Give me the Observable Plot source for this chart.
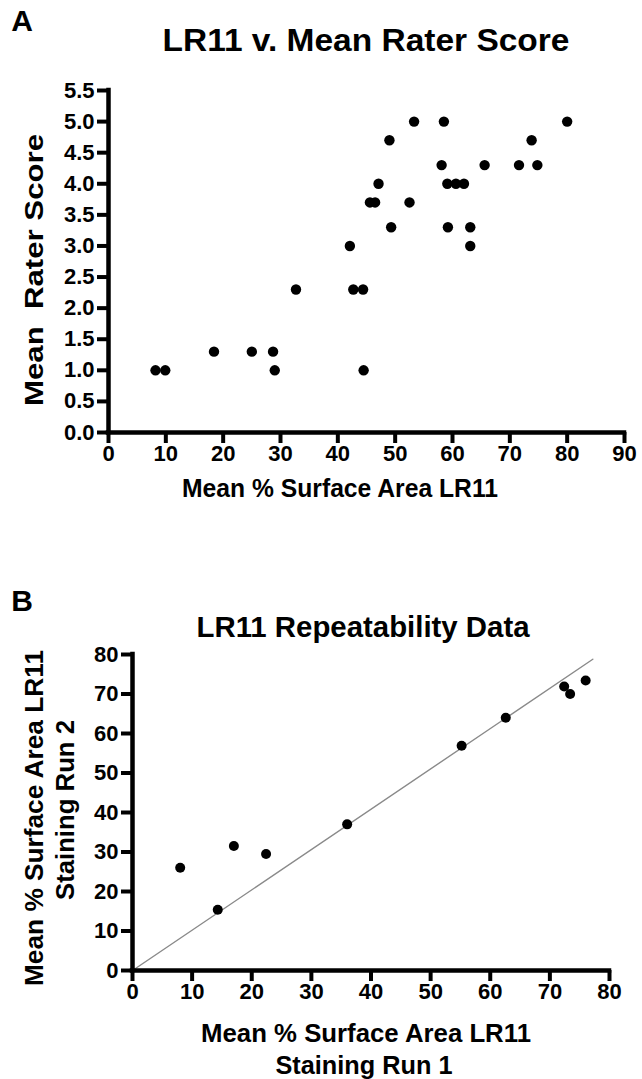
<!DOCTYPE html>
<html>
<head>
<meta charset="utf-8">
<script src="https://cdn.jsdelivr.net/npm/d3@7"></script>
<script src="https://cdn.jsdelivr.net/npm/@observablehq/plot@0.6"></script>
<style>
  html, body { margin: 0; padding: 0; background: #fff; }
  #wrap { position: relative; width: 642px; height: 1079px; overflow: hidden; }
  #overlay { position: absolute; left: 0; top: 0; pointer-events: none; }
  #overlay text { font-family: "Liberation Sans", Arial, sans-serif; font-weight: bold; fill: #000; }
</style>
</head>
<body>
<div id="wrap"><div id="pa"></div><div style="height:80px"></div><div id="pb"></div></div>
<script>
// Panel A: LR11 v. Mean Rater Score
const aSurfaceArea = [8.2, 9.9, 18.4, 25.0, 28.7, 29.0, 32.7, 42.1, 42.7, 44.4, 44.5, 45.6, 46.5, 47.1, 49.0, 49.3, 52.5, 53.3, 58.1, 58.5, 59.1, 59.2, 60.6, 62.0, 63.1, 63.1, 65.6, 71.6, 73.8, 74.8, 80.0];
const aRaterScore  = [1.0, 1.0, 1.3, 1.3, 1.3, 1.0, 2.3, 3.0, 2.3, 2.3, 1.0, 3.7, 3.7, 4.0, 4.7, 3.3, 3.7, 5.0, 4.3, 5.0, 4.0, 3.3, 4.0, 4.0, 3.3, 3.0, 4.3, 4.3, 4.7, 4.3, 5.0];
const aXTicks = [0, 10, 20, 30, 40, 50, 60, 70, 80, 90];
const aYTicks = [0, 0.5, 1, 1.5, 2, 2.5, 3, 3.5, 4, 4.5, 5, 5.5];

// Panel B: LR11 Repeatability Data
const bRun1 = [8.0, 14.3, 17.0, 22.4, 36.0, 55.2, 62.6, 72.4, 73.4, 76.0];
const bRun2 = [26.0, 15.4, 31.5, 29.5, 37.0, 56.9, 64.0, 71.9, 70.0, 73.4];
const bLineX = [0, 77.2];
const bLineY = [0, 78.8];
const bTicks = [0, 10, 20, 30, 40, 50, 60, 70, 80];

const FONT = "Liberation Sans, Arial, sans-serif";
const TICK = 11;

function axesMarks(xTicks, yTicks, xMax, yMax, yFormat) {
  return [
    Plot.ruleX([0], {y1: 0, y2: yMax, stroke: "black", strokeWidth: 4.5, strokeLinecap: "square"}),
    Plot.ruleY([0], {x1: 0, x2: xMax, stroke: "black", strokeWidth: 4.5, strokeLinecap: "square"}),
    Plot.axisX({ticks: xTicks, tickSize: TICK, tickPadding: 2, stroke: "black", strokeWidth: 4, fill: "black", fontSize: 22, fontWeight: "bold", fontFamily: FONT, label: null}),
    Plot.axisY({ticks: yTicks, tickSize: TICK, tickPadding: 3, stroke: "black", strokeWidth: 4, fill: "black", fontSize: 22, fontWeight: "bold", fontFamily: FONT, tickFormat: yFormat, label: null})
  ];
}

const aData = aSurfaceArea.map((x, i) => ({x, y: aRaterScore[i]}));
const plotA = Plot.plot({
  width: 642, height: 480,
  marginLeft: 108, marginRight: 18, marginTop: 90, marginBottom: 48,
  style: {fontFamily: FONT, background: "white"},
  x: {domain: [0, 90]},
  y: {domain: [0, 5.5]},
  marks: [
    ...axesMarks(aXTicks, aYTicks, 90, 5.5, d3.format(".1f")),
    Plot.dot(aData, {x: "x", y: "y", r: 5.2, fill: "black", stroke: null})
  ]
});
document.getElementById("pa").appendChild(plotA);

const bData = bRun1.map((x, i) => ({x, y: bRun2[i]}));
const bLine = bLineX.map((x, i) => ({x, y: bLineY[i]}));
const plotB = Plot.plot({
  width: 642, height: 460,
  marginLeft: 132, marginRight: 33, marginTop: 94, marginBottom: 50,
  style: {fontFamily: FONT, background: "white"},
  x: {domain: [0, 80]},
  y: {domain: [0, 80]},
  marks: [
    Plot.line(bLine, {x: "x", y: "y", stroke: "#8a8a8a", strokeWidth: 1.4}),
    ...axesMarks(bTicks, bTicks, 80, 80, d3.format("d")),
    Plot.dot(bData, {x: "x", y: "y", r: 5, fill: "black", stroke: null})
  ]
});
document.getElementById("pb").appendChild(plotB);

// Text overlay (titles, panel letters, axis labels)
const texts = [
  {t: "A", x: 22, y: 20, size: 30},
  {t: "LR11 v. Mean Rater Score", x: 366, y: 40, size: 31, len: 407},
  {t: "Mean\u00a0\u00a0Rater Score", x: 34, y: 270, size: 26, len: 272, rot: true},
  {t: "Mean % Surface Area LR11", x: 340, y: 488, size: 25, len: 316},
  {t: "B", x: 22, y: 600, size: 30},
  {t: "LR11 Repeatability Data", x: 363, y: 626, size: 30, len: 333},
  {t: "Mean % Surface Area LR11", x: 34, y: 818, size: 26, len: 336, rot: true},
  {t: "Staining Run 2", x: 65, y: 810, size: 26, len: 180, rot: true},
  {t: "Mean % Surface Area LR11", x: 366, y: 1033, size: 26, len: 330},
  {t: "Staining Run 1", x: 364, y: 1065, size: 26, len: 177}
];
const svg = d3.select("#wrap").append("svg").attr("id", "overlay").attr("width", 642).attr("height", 1079);
for (const d of texts) {
  const g = svg.append("g").attr("transform", `translate(${d.x},${d.y})${d.rot ? " rotate(-90)" : ""}`);
  const tx = g.append("text")
    .attr("text-anchor", "middle")
    .attr("dominant-baseline", "central")
    .attr("font-size", d.size)
    .text(d.t);
  if (d.len) tx.attr("textLength", d.len).attr("lengthAdjust", "spacingAndGlyphs");
}
</script>
</body>
</html>
